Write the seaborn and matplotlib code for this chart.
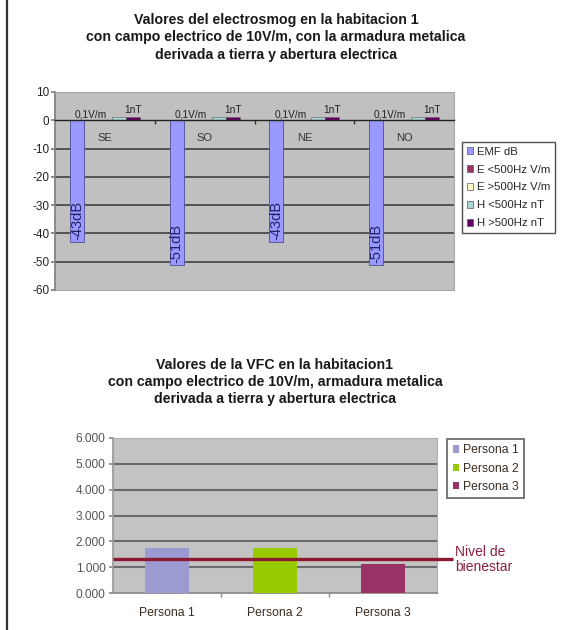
import matplotlib
matplotlib.use("Agg")
import matplotlib.pyplot as plt
import pandas as pd
import seaborn as sns
from matplotlib.lines import Line2D
from matplotlib.patches import Patch

# ---- datos: electrosmog por zona ----
zonas = ["SE", "SO", "NE", "NO"]
series = ["EMF dB", "E <500Hz V/m", "E >500Hz V/m", "H <500Hz nT", "H >500Hz nT"]
emf_db = [-43, -51, -43, -51]
e_baja = [0.1, 0.1, 0.1, 0.1]
e_alta = [0.1, 0.1, 0.1, 0.1]
h_baja = [1, 1, 1, 1]
h_alta = [1, 1, 1, 1]
colores_top = ["#9999ff", "#993366", "#ffffcc", "#a9d6d2", "#660066"]
y_ticks_top = [10, 0, -10, -20, -30, -40, -50, -60]

# ---- datos: VFC por persona ----
personas = ["Persona 1", "Persona 2", "Persona 3"]
vfc = [1.75, 1.75, 1.14]
nivel_bienestar = 1.33
colores_vfc = ["#9b9bd2", "#99cc00", "#993366"]
y_ticks_vfc = [0, 1, 2, 3, 4, 5, 6]
y_labels_vfc = ["0.000", "1.000", "2.000", "3.000", "4.000", "5.000", "6.000"]

sns.set_theme(style="white")
plt.rcParams["font.family"] = ["Liberation Sans", "DejaVu Sans"]

W, H = 577, 630
fig = plt.figure(figsize=(W / 100, H / 100), dpi=100)
fig.patch.set_facecolor("white")

# left frame line
fig.add_artist(Line2D([7 / W, 7 / W], [0, 1], color="#333333", lw=1.6))

# ================= grafico superior =================
df_top = pd.DataFrame({
    "zona": zonas * 5,
    "serie": sum([[s] * 4 for s in series], []),
    "valor": emf_db + e_baja + e_alta + h_baja + h_alta,
})
ax1 = fig.add_axes([55 / W, 1 - 290 / H, 399 / W, 198 / H])
sns.barplot(data=df_top, x="zona", y="valor", hue="serie", hue_order=series,
            palette=colores_top, width=0.7, saturation=1, ax=ax1,
            legend=False, edgecolor="#606060", linewidth=0.4, zorder=3)
for p in ax1.containers[0]:
    p.set_edgecolor("#5a5aa0")
    p.set_linewidth(0.7)

ax1.set_facecolor("#c0c0c0")
ax1.set_ylim(-60, 10)
ax1.set_xlim(-0.5, 3.5)
for g in [-10, -20, -30, -40, -50]:
    ax1.axhline(g, color="#4a4a4a", lw=1.3, zorder=1)
ax1.axhline(-60, color="#a8a8a8", lw=0.8, zorder=1, clip_on=False)

ax1.spines["bottom"].set_position(("data", 0))
ax1.spines["bottom"].set_color("#222222")
ax1.spines["bottom"].set_linewidth(1.0)
ax1.spines["bottom"].set_zorder(4)
ax1.spines["left"].set_color("#808080")
for s in ["top", "right"]:
    ax1.spines[s].set_color("#a8a8a8")
    ax1.spines[s].set_linewidth(0.8)

ax1.set_yticks(y_ticks_top, labels=[str(v) for v in y_ticks_top])
ax1.set_xticks(range(len(zonas)), labels=zonas)
ax1.set_xticks([0.5, 1.5, 2.5], minor=True)
ax1.tick_params(axis="x", which="major", length=0, pad=9, labelsize=8, labelcolor="#333333")
ax1.tick_params(axis="x", which="minor", length=3, direction="out", color="#333333", bottom=True)
ax1.tick_params(axis="y", length=3, direction="out", left=True, color="#808080",
                labelsize=8.5, labelcolor="#222222", pad=1)
ax1.set_xlabel("")
ax1.set_ylabel("")

# rótulos dentro de las barras EMF
for p, v in zip(ax1.containers[0], emf_db):
    x = p.get_x() + p.get_width() / 2
    y_end = p.get_y() + p.get_height()
    ax1.text(x, y_end + 0.5, f"{v}dB", rotation=90, ha="center", va="bottom",
             fontsize=10.5, color="#222266", zorder=5)

ax1.bar_label(ax1.containers[1], labels=[f"{v:g}".replace(".", ",") + "V/m" for v in e_baja],
              padding=0.5, fontsize=7.3, color="#222222", zorder=5)
ax1.bar_label(ax1.containers[4], labels=[f"{v:g}nT" for v in h_alta],
              padding=1.5, fontsize=7.3, color="#222222", zorder=5)

handles_top = [Patch(facecolor=c, edgecolor="#555555", linewidth=0.5) for c in colores_top]
leg1 = ax1.legend(handles_top, series, loc="upper left",
                  bbox_to_anchor=(462 / W, 1 - 142 / H), bbox_transform=fig.transFigure,
                  fontsize=8.2, frameon=True, fancybox=False, handlelength=0.6,
                  handleheight=0.6, handletextpad=0.3, labelspacing=0.7,
                  borderpad=0.4, borderaxespad=0)
leg1.get_frame().set_edgecolor("#222222")
leg1.get_frame().set_linewidth(1.0)

fig.text(276 / W, 1 - 37.5 / H,
         "Valores del electrosmog en la habitacion 1\n"
         "con campo electrico de 10V/m, con la armadura metalica\n"
         "derivada a tierra y abertura electrica",
         ha="center", va="center", fontsize=10.2, fontweight="bold",
         color="#1a1a1a", linespacing=1.28)

# ================= grafico inferior =================
df_bot = pd.DataFrame({"persona": personas, "vfc": vfc})
ax2 = fig.add_axes([113 / W, 1 - 593 / H, 324 / W, 155 / H])
sns.barplot(data=df_bot, x="persona", y="vfc", hue="persona", hue_order=personas,
            palette=colores_vfc, width=0.4, saturation=1, ax=ax2, legend=False,
            linewidth=0, edgecolor="none", zorder=3)
ax2.set_facecolor("#c3c3c3")
ax2.set_ylim(0, 6)
ax2.set_xlim(-0.5, 2.5)
for g in [1, 2, 3, 4, 5]:
    ax2.axhline(g, color="#6a6a6a", lw=1.5, zorder=1)
for s in ["top", "right"]:
    ax2.spines[s].set_color("#b0b0b0")
    ax2.spines[s].set_linewidth(0.8)
ax2.spines["left"].set_color("#9a9a9a")
ax2.spines["bottom"].set_color("#8a8a8a")

ax2.set_yticks(y_ticks_vfc, labels=y_labels_vfc)
ax2.set_xticks(range(len(personas)), labels=personas)
ax2.set_xticks([0.5, 1.5], minor=True)
ax2.tick_params(axis="x", which="major", length=0, pad=10, labelsize=8.8, labelcolor="#3b2b20")
ax2.tick_params(axis="x", which="minor", length=3, direction="out", color="#8a8a8a", bottom=True)
ax2.tick_params(axis="y", length=3, direction="out", left=True, color="#8a8a8a",
                labelsize=8.6, labelcolor="#555555", pad=2.5)
ax2.set_xlabel("")
ax2.set_ylabel("")

ytr = ax2.get_yaxis_transform()
ax2.plot([0, 1.049], [nivel_bienestar, nivel_bienestar], transform=ytr,
         color="#8b1a30", lw=2.4, clip_on=False, zorder=6, solid_capstyle="butt")
ax2.text(1.056, nivel_bienestar - 0.03, "Nivel de\nbienestar", transform=ytr,
         ha="left", va="center", fontsize=10, color="#8b2040", linespacing=1.15)

handles_bot = [Patch(facecolor=c, edgecolor="none") for c in colores_vfc]
leg2 = ax2.legend(handles_bot, personas, loc="upper left",
                  bbox_to_anchor=(447 / W, 1 - 439 / H), bbox_transform=fig.transFigure,
                  fontsize=8.8, frameon=True, fancybox=False, handlelength=0.55,
                  handleheight=0.55, handletextpad=0.3, labelspacing=0.5,
                  borderpad=0.45, borderaxespad=0, labelcolor="#3b2b20")
leg2.get_frame().set_edgecolor("#555555")
leg2.get_frame().set_linewidth(1.4)

fig.text(275 / W, 1 - 382 / H,
         "Valores de la VFC en la habitacion1\n"
         "con campo electrico de 10V/m, armadura metalica\n"
         "derivada a tierra y abertura electrica",
         ha="center", va="center", fontsize=10.2, fontweight="bold",
         color="#1a1a1a", linespacing=1.24)

fig.savefig("out.png", dpi=100, facecolor="white")
